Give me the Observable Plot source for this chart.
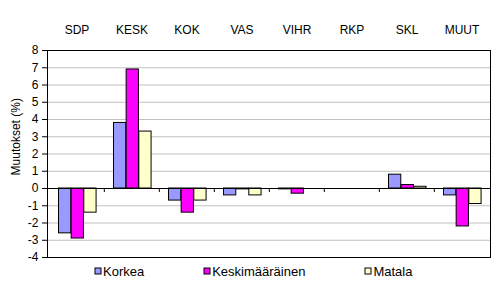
<!DOCTYPE html>
<html>
<head>
<meta charset="utf-8">
<script src="https://cdn.jsdelivr.net/npm/d3@7"></script>
<script src="https://cdn.jsdelivr.net/npm/@observablehq/plot@0.6"></script>
<style>
  html, body { margin: 0; padding: 0; background: #fff; }
  #chart { width: 495px; height: 288px; overflow: hidden; font-family: "Liberation Sans", Arial, sans-serif; }
  #chart svg { display: block; }
  div.lg-swatches.lg-swatches-wrap { font-family: "Liberation Sans", Arial, sans-serif; font-size: 13px; color: #000;
    margin: -7px 0 0 0; padding-left: 95px; min-height: 0; height: 20px; align-items: center; flex-wrap: nowrap; }
  div.lg-swatches .lg-swatch { margin-right: 60px; display: inline-flex; align-items: center; }
  div.lg-swatches .lg-swatch > svg { margin-right: 2px; overflow: visible; }
  div.lg-swatches .lg-swatch svg rect { stroke: #000; stroke-width: 1px; }
</style>
</head>
<body>
<div id="chart"></div>
<script>
const categories = ["SDP", "KESK", "KOK", "VAS", "VIHR", "RKP", "SKL", "MUUT"];
const series = ["Korkea", "Keskimääräinen", "Matala"];
const korkea = [-2.6, 3.8, -0.7, -0.4, -0.05, 0, 0.8, -0.4];
const keskimaarainen = [-2.9, 6.9, -1.4, -0.05, -0.3, 0, 0.2, -2.2];
const matala = [-1.4, 3.3, -0.7, -0.4, 0, 0, 0.1, -0.9];
const yTicks = [-4, -3, -2, -1, 0, 1, 2, 3, 4, 5, 6, 7, 8];
const yLabel = "Muutokset (%)";
const colors = ["#9999FF", "#FF00FF", "#FFFFCC"];

const values = [korkea, keskimaarainen, matala];
const data = [];
series.forEach((s, si) => categories.forEach((c, ci) => data.push({category: c, series: s, value: values[si][ci]})));

const W = 495, H = 268, ML = 47, MR = 5, MT = 50, MB = 11;
const step = (W - ML - MR) / categories.length;
const bw = 12.65, off = 9.5;

const barMarks = series.map((s, si) => Plot.barY(data.filter(d => d.series === s), {
  x: "category", y: "value", fill: "series", stroke: "#000", strokeWidth: 1,
  insetLeft: off + si * bw, insetRight: step - off - (si + 1) * bw
}));

const chart = Plot.plot({
  width: W, height: H,
  marginLeft: ML, marginRight: MR, marginTop: MT, marginBottom: MB,
  style: {fontFamily: "'Liberation Sans', Arial, sans-serif", fontSize: "12px", color: "#000", background: "#fff"},
  x: {type: "band", domain: categories, padding: 0, axis: "top", tickSize: 0, tickPadding: 17, label: null},
  y: {domain: [-4, 8], ticks: yTicks, tickSize: 5, tickPadding: 4, tickFormat: d => String(d), label: null},
  color: {domain: series, range: colors},
  marks: [
    Plot.ruleY(yTicks.filter(t => t !== -4 && t !== 8 && t !== 0), {stroke: "#c0c0c0", strokeWidth: 1}),
    ...barMarks,
    Plot.ruleY([0], {stroke: "#000", strokeWidth: 1}),
    Plot.ruleX(categories.slice(1), {x: d => d, y1: 0, y2: 0, insetBottom: -4, dx: -step / 2, stroke: "#000"}),
    Plot.frame({stroke: "#000", strokeWidth: 1}),
    Plot.text([yLabel], {text: d => d, y: () => 3, frameAnchor: "left", textAnchor: "middle", lineAnchor: "middle",
      dx: -31, rotate: -90, fontSize: 12, fill: "#000"})
  ]
});

const legend = chart.legend("color", {legend: "swatches", swatchSize: 6, className: "lg"});
const root = document.getElementById("chart");
root.appendChild(chart);
if (legend) root.appendChild(legend);
</script>
</body>
</html>
